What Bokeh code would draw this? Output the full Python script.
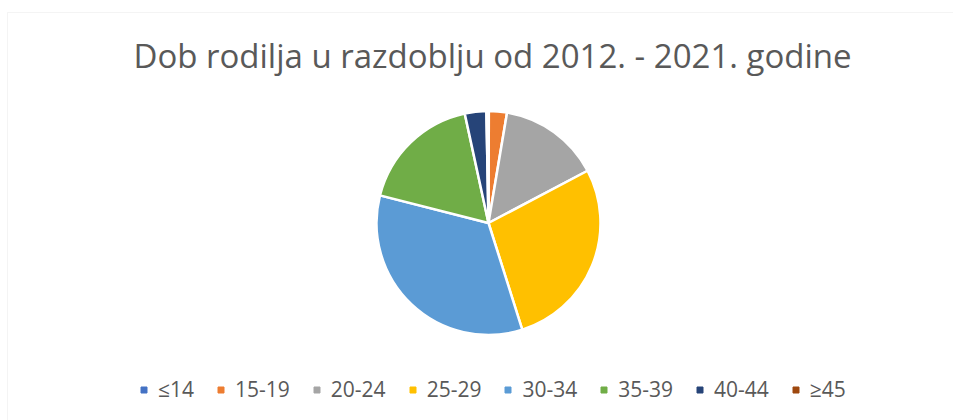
import numpy as np
from bokeh.plotting import figure
from bokeh.models import Range1d, Label, Legend, LegendItem, BoxAnnotation, ColumnDataSource
from bokeh.embed import file_html
from bokeh.resources import INLINE

title = "Dob rodilja u razdoblju od 2012. - 2021. godine"
categories = ["≤14", "15-19", "20-24", "25-29", "30-34", "35-39", "40-44", "≥45"]
shares = [0.05, 2.6, 14.6, 27.8, 33.8, 17.6, 3.1, 0.3]
colors = ["#4472C4", "#ED7D31", "#A5A5A5", "#FFC000", "#5B9BD5", "#70AD47", "#264478", "#9E480E"]

W, H = 953, 420
p = figure(width=W, height=H, output_backend="svg", toolbar_location=None,
           x_range=Range1d(0, W), y_range=Range1d(0, H), min_border=0)
p.axis.visible = False
p.grid.visible = False
p.outline_line_color = None
p.background_fill_color = "white"

# chart frame (cropped at right/bottom)
p.add_layout(BoxAnnotation(left=7, right=W + 20, top=H - 12, bottom=-20,
                           fill_alpha=0, line_color="#D9D9D9", line_width=1))

vals = np.array(shares, dtype=float)
frac = vals / vals.sum()
cum = np.concatenate([[0], np.cumsum(frac)])
start = np.pi / 2 - 2 * np.pi * cum[:-1]
end = np.pi / 2 - 2 * np.pi * cum[1:]
src = ColumnDataSource(dict(start=start, end=end, color=colors, cat=categories))
p.wedge(x=488, y=H - 222.5, radius=112, start_angle="start", end_angle="end",
        direction="clock", fill_color="color", line_color="white", line_width=2.5, source=src)

p.add_layout(Label(x=492, y=H - 55, x_units="data", y_units="data", text=title,
                   text_align="center", text_baseline="alphabetic",
                   text_font="Open Sans", text_font_size="33px", text_color="#595959"))

items = []
for c, col in zip(categories, colors):
    r = p.scatter(x=[-500], y=[-500], marker="square", fill_color=col, line_color=col, size=6)
    items.append(LegendItem(label=c, renderers=[r]))
leg = Legend(items=items, orientation="horizontal", location=(136, 17),
             glyph_width=15, glyph_height=15, label_standoff=7, spacing=19,
             padding=0, margin=0, border_line_color=None, background_fill_alpha=0,
             label_text_font="Open Sans", label_text_font_size="21px",
             label_text_color="#595959")
p.add_layout(leg, "center")

open("out.html", "w").write(file_html(p, INLINE))
